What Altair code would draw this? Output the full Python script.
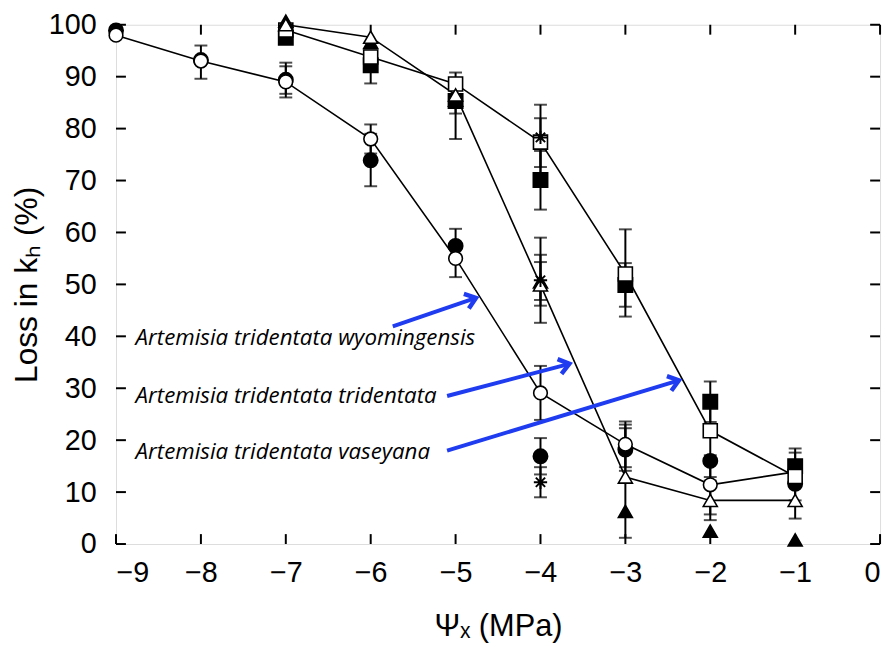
import altair as alt
import pandas as pd

# ---------------- data ----------------
psi = [-9, -8, -7, -6, -5, -4, -3, -2, -1]
open_circle = [98.0, 93.0, 89.0, 78.0, 55.0, 29.1, 19.2, 11.4, 13.9]
filled_circle = [98.9, 93.2, 89.4, 73.9, 57.4, 16.9, 18.2, 16.0, 11.6]

psi_sq = [-7, -6, -5, -4, -3, -2, -1]
open_square = [99.0, 93.8, 88.6, 77.4, 52.0, 21.8, 13.0]
filled_square = [97.5, 92.2, 85.3, 70.1, 49.9, 27.4, 15.0]

psi_tri = [-7, -6, -5, -4, -3, -2, -1]
open_triangle = [100.0, 97.6, 86.5, 49.9, 12.9, 8.4, 8.4]
filled_triangle = [100.7, 96.6, 85.5, 50.5, 6.3, 2.5, 0.8]

psi_star = [-4, -4, -4]
star = [78.3, 50.8, 11.9]

err_x = [-8, -7, -7, -6, -6, -6, -5, -5, -5,
         -4, -4, -4, -4, -4, -4, -4, -4, -4,
         -3, -3, -3, -3, -3, -2, -2, -2, -2, -1, -1, -1]
err_lo = [89.6, 86.7, 86.0, 68.9, 75.2, 88.7, 82.9, 78.0, 51.4,
          70.2, 64.4, 72.6, 42.6, 47.0, 45.9, 23.9, 13.4, 9.0,
          43.8, 45.7, 14.8, 14.1, 1.2, 23.5, 12.9, 5.7, 4.6, 11.6, 8.4, 4.9]
err_hi = [96.0, 92.7, 92.0, 79.0, 80.8, 95.0, 90.8, 88.5, 60.7,
          84.6, 75.7, 82.0, 59.0, 54.3, 55.7, 34.3, 20.4, 14.8,
          60.6, 54.1, 23.6, 22.3, 23.0, 31.3, 27.0, 17.1, 12.2, 18.4, 17.6, 11.9]

x_ticks = [-9, -8, -7, -6, -5, -4, -3, -2, -1, 0]
y_ticks = [0, 10, 20, 30, 40, 50, 60, 70, 80, 90, 100]

labels = ["Artemisia tridentata wyomingensis",
          "Artemisia tridentata tridentata",
          "Artemisia tridentata vaseyana"]
label_x = [-8.77, -8.77, -8.77]
label_y = [39.7, 28.5, 17.8]

arrow_x = [-5.74, -5.10, -5.10]
arrow_y = [41.9, 28.5, 18.0]
arrow_x2 = [-4.76, -3.66, -2.37]
arrow_y2 = [47.4, 34.7, 31.5]
arrow_angle = [341, 345, 343]

W, H = 771, 524

# ---------------- scales ----------------
xs = alt.Scale(domain=[-9, 0], nice=False, zero=False)
ys = alt.Scale(domain=[0, 100], nice=False, zero=False)

xaxis = alt.Axis(values=x_ticks, ticks=False, domain=False, grid=False,
                 labelFontSize=29, labelFont="Liberation Sans", labelColor="black",
                 labelPadding=15, title="Ψₓ (MPa)", titleFontSize=31,
                 titleFont="Liberation Sans", titleFontWeight="normal",
                 titleColor="black", titlePadding=24)
yaxis = alt.Axis(values=y_ticks, ticks=False, domain=False, grid=False,
                 labelFontSize=29, labelFont="Liberation Sans", labelColor="black",
                 labelPadding=20, title="Loss in kₕ (%)", titleFontSize=32,
                 titleFont="Liberation Sans", titleFontWeight="normal",
                 titleColor="black", titlePadding=5)

def df(x, y):
    return pd.DataFrame({"x": x, "y": y})

base_x = alt.X("x:Q", scale=xs, axis=xaxis)
base_y = alt.Y("y:Q", scale=ys, axis=yaxis)

# error bars
err = pd.DataFrame({"x": err_x, "lo": err_lo, "hi": err_hi})
err_rule = alt.Chart(err).mark_rule(color="black", strokeWidth=2).encode(
    x=alt.X("x:Q", scale=xs, axis=xaxis),
    y=alt.Y("lo:Q", scale=ys, axis=yaxis), y2="hi:Q")
caps = pd.DataFrame({"x": err_x + err_x, "y": err_lo + err_hi})
err_caps = alt.Chart(caps).mark_tick(color="black", orient="horizontal",
                                     size=13, thickness=2).encode(x=base_x, y=base_y)

# lines
line_c = alt.Chart(df(psi, open_circle)).mark_line(color="black", strokeWidth=1.6).encode(x=base_x, y=base_y)
line_s = alt.Chart(df(psi_sq, open_square)).mark_line(color="black", strokeWidth=1.6).encode(x=base_x, y=base_y)
line_t = alt.Chart(df(psi_tri, open_triangle)).mark_line(color="black", strokeWidth=1.6).encode(x=base_x, y=base_y)

# markers
def pts(x, y, shape, filled, size):
    return alt.Chart(df(x, y)).mark_point(
        shape=shape, filled=True, size=size,
        fill="black" if filled else "white", stroke="black",
        strokeWidth=1.6, opacity=1, fillOpacity=1
    ).encode(x=base_x, y=base_y)

oc = pts(psi, open_circle, "circle", False, 190)
fc = pts(psi, filled_circle, "circle", True, 210)
osq = pts(psi_sq, open_square, "square", False, 200)
fsq = pts(psi_sq, filled_square, "square", True, 210)
otr = pts(psi_tri, open_triangle, "triangle-up", False, 200)
ftr = pts(psi_tri, filled_triangle, "triangle-up", True, 200)
st = alt.Chart(df(psi_star, star)).mark_point(
    shape="M-1,0L1,0M0,-1L0,1M-0.7,-0.7L0.7,0.7M-0.7,0.7L0.7,-0.7",
    filled=False, size=180, stroke="black", strokeWidth=2, opacity=1
).encode(x=base_x, y=base_y)

# inward ticks on all four sides
xt = pd.DataFrame({"x": x_ticks})
yt = pd.DataFrame({"y": y_ticks})
tick_bottom = alt.Chart(xt).mark_rule(color="black", strokeWidth=2).encode(
    x=base_x, y=alt.value(H), y2=alt.value(H - 10))
tick_top = alt.Chart(xt).mark_rule(color="black", strokeWidth=2).encode(
    x=base_x, y=alt.value(0), y2=alt.value(10))
tick_left = alt.Chart(yt).mark_rule(color="black", strokeWidth=2).encode(
    y=base_y, x=alt.value(0), x2=alt.value(10))
tick_right = alt.Chart(yt).mark_rule(color="black", strokeWidth=2).encode(
    y=base_y, x=alt.value(W), x2=alt.value(W - 10))

# annotations
lab = pd.DataFrame({"x": label_x, "y": label_y, "t": labels})
texts = alt.Chart(lab).mark_text(
    font="Open Sans", fontStyle="italic", fontSize=22.5, align="left",
    baseline="middle", color="black"
).encode(x=base_x, y=base_y, text="t:N")

arr = pd.DataFrame({"x": arrow_x, "y": arrow_y, "x2": arrow_x2, "y2": arrow_y2,
                    "a": arrow_angle})
blue = "#1f3cf0"
arrow_lines = alt.Chart(arr).mark_rule(color=blue, strokeWidth=4).encode(
    x=base_x, y=base_y, x2="x2:Q", y2="y2:Q")
arrow_heads = alt.Chart(arr).mark_point(
    shape="M-1,-0.75L0,0L-1,0.75", filled=False, size=420, stroke=blue,
    strokeWidth=4.5, opacity=1, strokeJoin="miter"
).encode(x=alt.X("x2:Q", scale=xs, axis=xaxis),
         y=alt.Y("y2:Q", scale=ys, axis=yaxis),
         angle=alt.Angle("a:Q", scale=None))

chart = alt.layer(
    tick_bottom, tick_top, tick_left, tick_right,
    err_rule, err_caps, line_c, line_s, line_t,
    fc, oc, fsq, osq, ftr, otr, st,
    arrow_lines, arrow_heads, texts
).properties(
    width=W, height=H,
    autosize=alt.AutoSizeParams(type="none"),
    padding={"left": 109, "top": 14, "right": 6, "bottom": 100}
).configure_view(stroke="black", strokeWidth=2.5).configure(background="white")

chart.save("out.html", embed_options={"renderer": "svg", "actions": False})
